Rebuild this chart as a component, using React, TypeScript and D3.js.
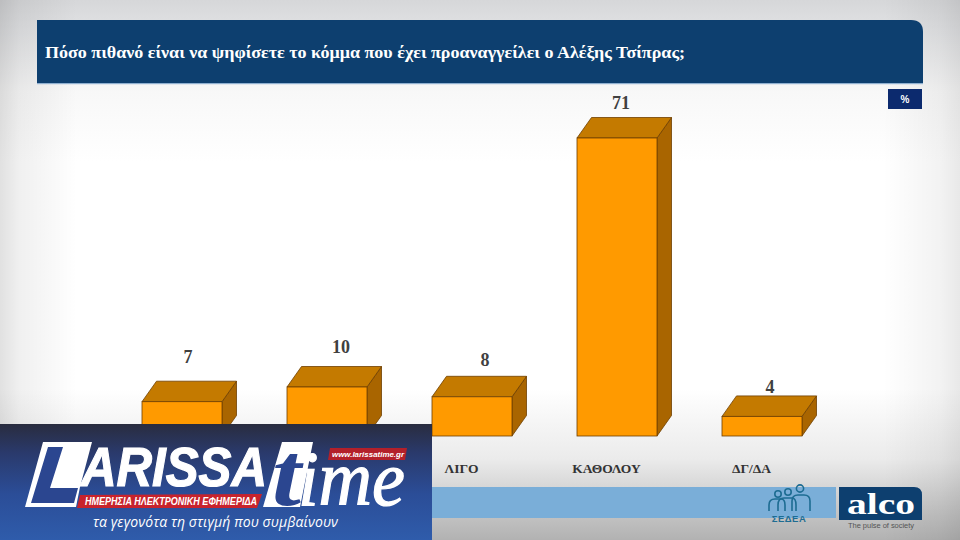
import { useEffect, useRef } from 'react';
import * as d3 from 'd3';

// The first two category names are hidden by the overlay in the source, so they are a guess
const categories = ['ΠΟΛΥ', 'ΑΡΚΕΤΑ', 'ΛΙΓΟ', 'ΚΑΘΟΛΟΥ', 'ΔΓ/ΔΑ'];
const hiddenLabels = ['ΠΟΛΥ', 'ΑΡΚΕΤΑ'];
const values = [7, 10, 8, 71, 4];

const title = 'Πόσο πιθανό είναι να ψηφίσετε το κόμμα που έχει προαναγγείλει ο Αλέξης Τσίπρας;';
const unit = '%';

const SERIF = '"Liberation Serif", serif';
const SANS = '"Liberation Sans", sans-serif';

// small hand offsets for the value labels, the source places them unevenly
const labelDx = [6, 14, 13, 4, 8];
const labelDy = [-18, -14, -10, -9, -3];

export default function App() {
  const ref = useRef<SVGSVGElement>(null);

  useEffect(() => {
    if (!ref.current) return;
    const svg = d3.select(ref.current);
    svg.selectAll('*').remove();

    const defs = svg.append('defs');
    const bgV = defs.append('linearGradient').attr('id', 'bgV').attr('x1', 0).attr('y1', 0).attr('x2', 0).attr('y2', 1);
    [[0, '#d6d7d9'], [0.05, '#e0e1e3'], [0.17, '#f8f8f8'], [0.3, '#ffffff'], [0.72, '#ffffff'], [0.85, '#ebebeb'], [0.95, '#c4c4c4'], [1, '#b2b2b2']]
      .forEach(([o, c]) => bgV.append('stop').attr('offset', o).attr('stop-color', c as string));
    const bgH = defs.append('linearGradient').attr('id', 'bgH');
    [[0, 0.12], [0.02, 0.06], [0.08, 0], [0.92, 0], [0.98, 0.05], [1, 0.09]]
      .forEach(([o, a]) => bgH.append('stop').attr('offset', o).attr('stop-color', '#000').attr('stop-opacity', a));
    const logoGrad = defs.append('linearGradient').attr('id', 'logoBg').attr('x1', 0).attr('y1', 0).attr('x2', 0).attr('y2', 1);
    [[0, '#292c3f'], [0.25, '#2a3a6c'], [0.6, '#2b4d97'], [1, '#2f5cab']].forEach(([o, c]) =>
      logoGrad.append('stop').attr('offset', o).attr('stop-color', c as string));

    svg.append('rect').attr('width', 960).attr('height', 540).attr('fill', 'url(#bgV)');
    svg.append('rect').attr('width', 960).attr('height', 540).attr('fill', 'url(#bgH)');

    // Title banner
    svg.append('path').attr('d', 'M37,20H911Q923,20 923,32V83H37Z').attr('fill', '#0d3f6f');
    svg.append('rect').attr('x', 37).attr('y', 83).attr('width', 886).attr('height', 1.2).attr('fill', '#8fb0d0');
    svg.append('text').attr('x', 45).attr('y', 58)
      .attr('fill', '#fff').attr('font-family', SERIF).attr('font-weight', 700).attr('font-size', 17)
      .attr('textLength', 640).attr('lengthAdjust', 'spacingAndGlyphs').text(title);

    svg.append('rect').attr('x', 888).attr('y', 89).attr('width', 34).attr('height', 20).attr('fill', '#0c2a6e');
    svg.append('text').attr('x', 905).attr('y', 103).attr('text-anchor', 'middle')
      .attr('fill', '#fff').attr('font-family', SANS).attr('font-weight', 700).attr('font-size', 10).text(unit);

    // Scales. The source bars are not proportional above 10, so the value scale has a knee
    const x = d3.scaleBand<string>().domain(categories).range([109.5, 834.5])
      .paddingInner(65 / 145).paddingOuter(65 / 290);
    const y = d3.scaleLinear().domain([0, 10, 71]).range([436, 387, 138]);
    const dx = 14.5;
    const dy = -20.5;
    const w = x.bandwidth();
    const edge = '#6e3f00';

    // Bars as boxes
    const bars = svg.selectAll('g.bar').data(values).join('g').attr('class', 'bar');
    bars.append('path')
      .attr('d', (d, i) => {
        const x0 = x(categories[i])! + w;
        return `M${x0},${y(d)}l${dx},${dy}V${y(0) + dy}l${-dx},${-dy}Z`;
      })
      .attr('fill', '#a96500').attr('stroke', edge).attr('stroke-width', 0.8);
    bars.append('path')
      .attr('d', (d, i) => {
        const x0 = x(categories[i])!;
        return `M${x0},${y(d)}l${dx},${dy}h${w}l${-dx},${-dy}Z`;
      })
      .attr('fill', '#c47a00').attr('stroke', edge).attr('stroke-width', 0.8);
    bars.append('rect')
      .attr('x', (_, i) => x(categories[i])!)
      .attr('y', d => y(d))
      .attr('width', w)
      .attr('height', d => y(0) - y(d))
      .attr('fill', '#ff9a00').attr('stroke', edge).attr('stroke-width', 0.8);

    bars.append('text')
      .attr('x', (_, i) => x(categories[i])! + w / 2 + labelDx[i])
      .attr('y', (d, i) => y(d) + dy + labelDy[i])
      .attr('text-anchor', 'middle')
      .attr('fill', '#404040').attr('font-family', SERIF).attr('font-weight', 700).attr('font-size', 18)
      .text(d => d);

    // Category axis, labels only
    const axis = svg.append('g').attr('transform', 'translate(-10.5,460)')
      .call(d3.axisBottom(x).tickSize(0).tickPadding(3).tickFormat(d => (hiddenLabels.includes(d) ? '' : d)));
    axis.select('.domain').remove();
    axis.selectAll('text').attr('fill', '#333').attr('font-family', SERIF).attr('font-weight', 700).attr('font-size', 13.5);

    // Footer band and logos
    svg.append('rect').attr('x', 420).attr('y', 487).attr('width', 416).attr('height', 31).attr('fill', '#7aaed8');
    svg.append('path').attr('d', 'M839,487H914Q922,487 922,495V520H839Z').attr('fill', '#0d3f6f');
    svg.append('text').attr('x', 847).attr('y', 514)
      .attr('fill', '#fff').attr('font-family', SERIF).attr('font-weight', 700).attr('font-size', 30)
      .attr('textLength', 68).attr('lengthAdjust', 'spacingAndGlyphs').text('alco');
    svg.append('text').attr('x', 848).attr('y', 528)
      .attr('fill', '#555').attr('font-family', SANS).attr('font-size', 7.5)
      .attr('textLength', 66).text('The pulse of society');

    const icon = svg.append('g').attr('fill', 'none').attr('stroke', '#1d6c92').attr('stroke-width', 1.6);
    icon.append('circle').attr('cx', 778).attr('cy', 494).attr('r', 3.2);
    icon.append('circle').attr('cx', 788).attr('cy', 492).attr('r', 3.2);
    icon.append('circle').attr('cx', 800).attr('cy', 488.5).attr('r', 3.6);
    icon.append('path').attr('d', 'M769,511V505Q769,499 775,499H781Q785,499 785,505V511');
    icon.append('path').attr('d', 'M778,511V505Q778,498 784,498H792Q796,498 796,505V511');
    icon.append('path').attr('d', 'M792,511V501Q792,495 798,495H804Q810,495 810,501V511');
    svg.append('text').attr('x', 789).attr('y', 522).attr('text-anchor', 'middle')
      .attr('fill', '#1d6c92').attr('font-family', SANS).attr('font-weight', 700).attr('font-size', 9.5)
      .attr('letter-spacing', 0.5).text('ΣΕΔΕΑ');

    // Newspaper overlay covering the lower left corner
    const logo = svg.append('g');
    logo.append('rect').attr('x', 0).attr('y', 424).attr('width', 432).attr('height', 116).attr('fill', 'url(#logoBg)');
    logo.append('polygon').attr('points', '43,442 92,442 80,487 76,507 25,507').attr('fill', '#fff');
    logo.append('polygon').attr('points', '48,447 63,447 50,488 78,488 74,503 31,503').attr('fill', '#2b4690');
    logo.append('text').attr('x', 81).attr('y', 486)
      .attr('fill', '#fff').attr('stroke', '#fff').attr('stroke-width', 1.2)
      .attr('font-family', SANS).attr('font-style', 'italic').attr('font-weight', 700).attr('font-size', 55)
      .attr('textLength', 186).attr('lengthAdjust', 'spacingAndGlyphs').text('ARISSA');
    logo.append('polygon').attr('points', '80,495 262,494 257,508 77,508').attr('fill', '#c8232c');
    logo.append('text').attr('x', 85).attr('y', 505)
      .attr('fill', '#fff').attr('font-family', SANS).attr('font-style', 'italic').attr('font-weight', 700).attr('font-size', 10)
      .attr('textLength', 172).attr('lengthAdjust', 'spacingAndGlyphs').text('ΗΜΕΡΗΣΙΑ ΗΛΕΚΤΡΟΝΙΚΗ ΕΦΗΜΕΡΙΔΑ');
    logo.append('polygon').attr('points', '282,442 313,442 300,507 263,507').attr('fill', '#fff');
    logo.append('text').attr('x', 272).attr('y', 505)
      .attr('fill', '#2b4690').attr('font-family', SERIF).attr('font-style', 'italic').attr('font-weight', 700).attr('font-size', 92)
      .attr('textLength', 29).attr('lengthAdjust', 'spacingAndGlyphs').text('t');
    logo.append('text').attr('x', 298).attr('y', 505)
      .attr('fill', '#fff').attr('stroke', '#fff').attr('stroke-width', 1.2)
      .attr('font-family', SERIF).attr('font-style', 'italic').attr('font-size', 78)
      .attr('textLength', 107).attr('lengthAdjust', 'spacingAndGlyphs').text('ime');
    logo.append('polygon').attr('points', '330,448 407,448 405,460 328,460').attr('fill', '#b3202a');
    logo.append('text').attr('x', 332).attr('y', 457)
      .attr('fill', '#fff').attr('font-family', SANS).attr('font-style', 'italic').attr('font-weight', 700).attr('font-size', 8)
      .attr('textLength', 72).attr('lengthAdjust', 'spacingAndGlyphs').text('www.larissatime.gr');
    logo.append('text').attr('x', 93).attr('y', 527)
      .attr('fill', '#fff').attr('font-family', '"Open Sans", sans-serif').attr('font-style', 'italic').attr('font-size', 14)
      .attr('textLength', 245).text('τα γεγονότα τη στιγμή που συμβαίνουν');
  }, []);

  return <svg ref={ref} width={960} height={540} style={{ position: 'fixed', left: 0, top: 0 }} />;
}
